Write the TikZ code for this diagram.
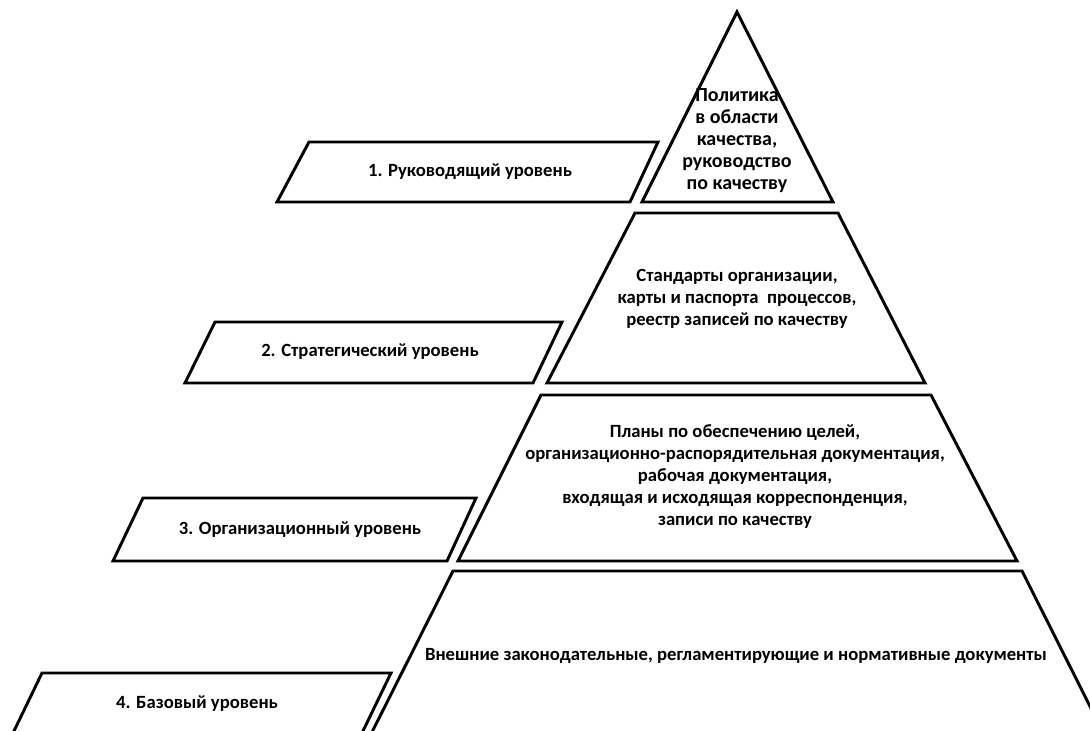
\documentclass[tikz,border=0pt]{standalone}
\usepackage{fontspec}
\setmainfont{Carlito}
\begin{document}
\begin{tikzpicture}[x=0.75pt,y=-0.75pt,
  shapeline/.style={draw=black,line width=2.2pt,line join=miter},
  lbl/.style={font=\bfseries\fontsize{14}{16.5}\selectfont,align=center,inner sep=0pt},
  toplbl/.style={lbl,font=\bfseries\fontsize{15}{16.5}\selectfont}]
\useasboundingbox (0,0) rectangle (1090,731);
\begin{scope}
\clip (0,0) rectangle (1090,731);
% pyramid levels
\draw[shapeline] (737,12) -- (833,202) -- (642,202) -- cycle;
\draw[shapeline] (635,213) -- (838,213) -- (925,383) -- (547,383) -- cycle;
\draw[shapeline] (541,395) -- (931,395) -- (1017,561) -- (458,561) -- cycle;
\draw[shapeline] (453,571) -- (1022,571) -- (1117,760) -- (358,760) -- cycle;
% level parallelograms
\draw[shapeline] (309,142) -- (658,142) -- (630,202) -- (277,202) -- cycle;
\draw[shapeline] (215,322) -- (562,322) -- (533,383) -- (185,383) -- cycle;
\draw[shapeline] (143,498) -- (476,498) -- (447,561) -- (113,561) -- cycle;
\draw[shapeline] (42,673) -- (391,673) -- (349,760) -- (0,760) -- cycle;
\end{scope}
% texts
\node[toplbl] (t1) at (737,141) {Политика\\в области\\качества,\\руководство\\по качеству};
\node[lbl] (t2) at (737,299) {Стандарты организации,\\карты и паспорта\ \ процессов,\\реестр записей по качеству};
\node[lbl] (t3) at (735,477) {Планы по обеспечению целей,\\организационно-распорядительная документация,\\рабочая документация,\\входящая и исходящая корреспонденция,\\записи по качеству};
\node[lbl] (t4) at (736,656) {Внешние законодательные, регламентирующие и нормативные документы};
\node[lbl] (l1) at (470,172) {1. Руководящий уровень};
\node[lbl] (l2) at (370,352) {2. Стратегический уровень};
\node[lbl] (l3) at (300,530) {3. Организационный уровень};
\node[lbl] (l4) at (197,704) {4. Базовый уровень};
\end{tikzpicture}
\end{document}
